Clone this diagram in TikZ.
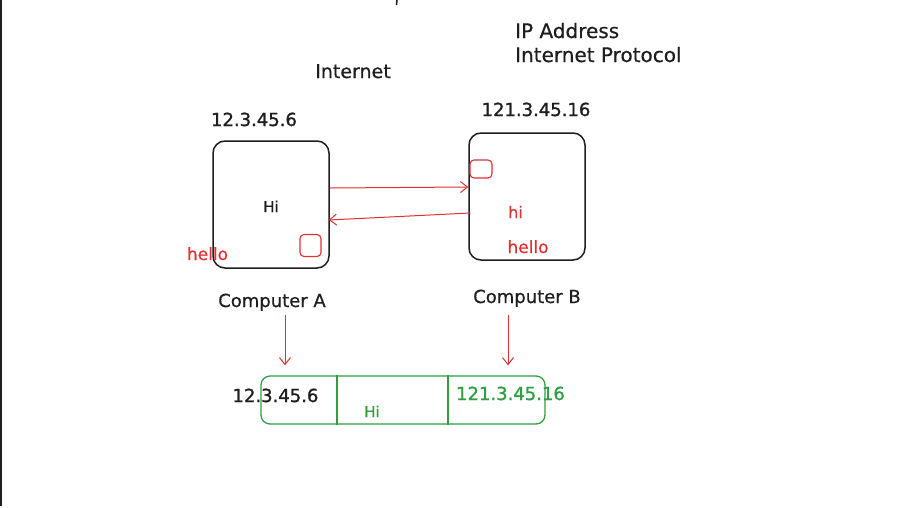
\documentclass[tikz,border=0pt]{standalone}
\usepackage{fontspec}
\setmainfont{DejaVu Sans}
\newfontfamily\numfont[FakeBold=1.2]{DejaVu Sans}
\newfontfamily\handfont[FakeBold=0.5]{DejaVu Sans}
\usetikzlibrary{arrows.meta}
\definecolor{ink}{HTML}{1E1E1E}
\definecolor{exred}{HTML}{E03131}
\definecolor{exgreen}{HTML}{2F9E44}
\tikzset{
  lbl/.style={inner sep=0pt, anchor=base, text=ink, font=\handfont\fontsize{#1}{#1}\selectfont},
  lbl/.default=20,
  numlbl/.style={inner sep=0pt, anchor=base, text=ink, font=\numfont\fontsize{#1}{#1}\selectfont},
  redlbl/.style={inner sep=0pt, anchor=base, text=exred, font=\handfont\fontsize{#1}{#1}\selectfont},
  greenlbl/.style={inner sep=0pt, anchor=base, text=exgreen, font=\handfont\fontsize{#1}{#1}\selectfont},
  greennum/.style={inner sep=0pt, anchor=base, text=exgreen, font=\numfont\fontsize{#1}{#1}\selectfont},
  machine/.style={draw=ink, line width=1.5pt, rounded corners=12pt, minimum width=116pt, minimum height=127pt, inner sep=0pt},
  port/.style={draw=exred, line width=1.1pt, rounded corners=4pt, inner sep=0pt},
  redarrow/.style={draw=exred, line width=1pt, -{Straight Barb[length=7pt,width=11pt]}},
  packetbox/.style={draw=exgreen, line width=1.3pt, rounded corners=9pt, minimum width=284pt, minimum height=48pt, inner sep=0pt},
}
\begin{document}
\begin{tikzpicture}[x=1pt,y=-1pt]
\useasboundingbox[fill=white] (0,0) rectangle (910,507);
% left edge line and top mark
\coordinate (edgetop) at (0.9,0);
\coordinate (edgebot) at (0.9,506);
\draw[ink, line width=1.8pt] (edgetop) -- (edgebot);
\coordinate (marktop) at (397,0);
\coordinate (markbot) at (396.5,5);
\draw[ink, line width=1.5pt] (marktop) -- (markbot);

% titles
\node[lbl=20, anchor=base west] (ipaddr) at (515,38) {IP Address};
\node[lbl=20, anchor=base west] (ipproto) at (515,62) {Internet Protocol};
\node[lbl=19] (internet) at (353,78) {Internet};

% computer A
\node[numlbl=18] (ipA) at (254,126) {12.3.45.6};
\node[machine] (boxA) at (271,204.5) {};
\node[lbl=15] (hiA) at (271,212) {Hi};
\node[port, minimum width=21pt, minimum height=22pt] (portA) at (310.5,245.5) {};
\node[redlbl=17] (helloA) at (207.5,260) {hello};
\node[lbl=18] (compA) at (272,307) {Computer A};

% computer B
\node[numlbl=18] (ipB) at (536,116) {121.3.45.16};
\node[machine] (boxB) at (527,196.5) {};
\node[port, minimum width=22pt, minimum height=18pt] (portB) at (481,169) {};
\node[redlbl=16] (hiB) at (515.5,218) {hi};
\node[redlbl=17] (helloB) at (528,253) {hello};
\node[lbl=18] (compB) at (527,303) {Computer B};

% messages between machines
\draw[redarrow] ([yshift=16.5pt]boxA.east) -- ([yshift=9.5pt]boxB.west);
\draw[redarrow] ([xshift=2pt,yshift=-16.5pt]boxB.west) -- ([xshift=-1pt,yshift=-15.5pt]boxA.east);

% packet
\node[packetbox] (packet) at (403,400) {};
\draw[exgreen, line width=1.3pt] ([xshift=-66pt]packet.north) -- ([xshift=-66pt]packet.south);
\draw[exgreen, line width=1.3pt] ([xshift=45pt]packet.north) -- ([xshift=45pt]packet.south);
\node[numlbl=18] (srcip) at (275.5,402) {12.3.45.6};
\node[greenlbl=15] (pkthi) at (372,417) {Hi};
\node[greennum=18] (dstip) at (510.5,400) {121.3.45.16};

% pointers
\draw[redarrow] ([xshift=13pt,yshift=-8pt]compA.base) -- ([xshift=-118pt,yshift=10pt]packet.north);
\draw[redarrow] ([xshift=-19pt,yshift=-12pt]compB.base) -- ([xshift=105pt,yshift=10pt]packet.north);
\end{tikzpicture}
\end{document}
